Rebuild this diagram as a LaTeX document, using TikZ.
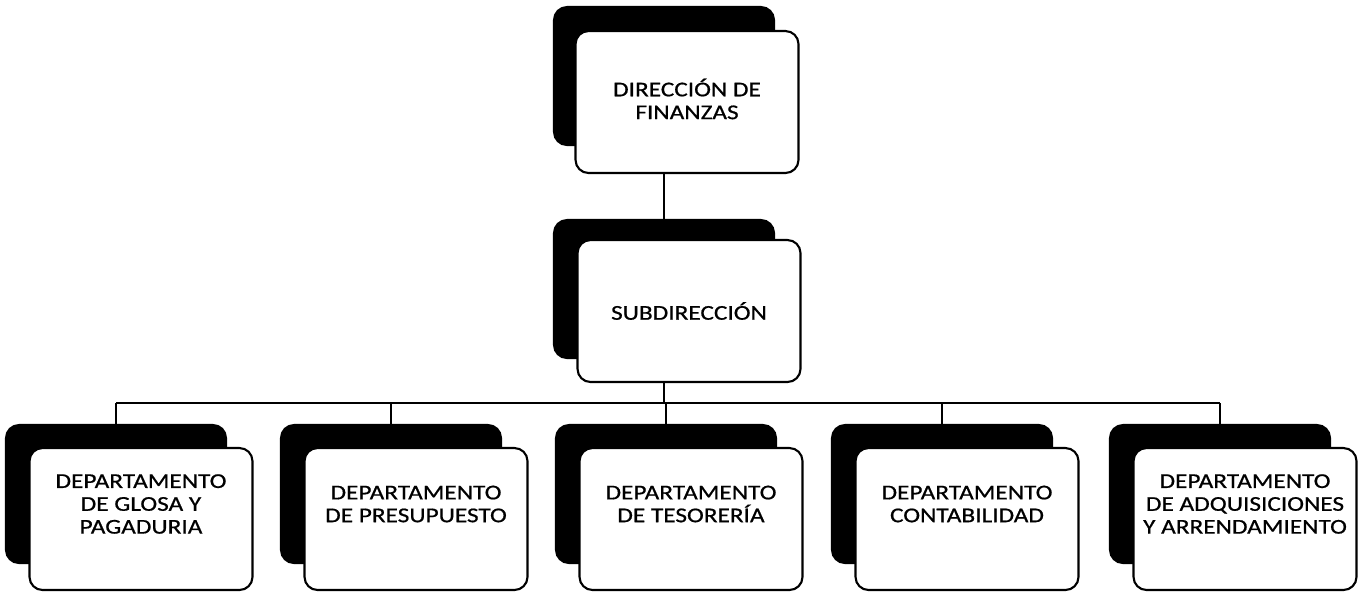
\documentclass[tikz,border=0pt]{standalone}
\usepackage{fontspec}
\setmainfont{Carlito}[FakeStretch=1.2, FakeBold=0.7]
\usetikzlibrary{backgrounds}

\tikzset{
  backbox/.style={draw, fill=black, line width=1.2pt, rounded corners=0.26cm,
    minimum width=4.4cm, minimum height=2.76cm, inner sep=0pt},
  frontbox/.style={draw, fill=white, line width=1.2pt, rounded corners=0.26cm,
    minimum width=4.46cm, minimum height=2.84cm, inner sep=0pt},
  boxtext/.style={align=center, font=\fontsize{12}{13}\selectfont},
  link/.style={line width=1.2pt}
}

\begin{document}
\begin{tikzpicture}[x=0.02cm, y=-0.02cm]
\useasboundingbox (0,0) rectangle (1367,593);

% direccion
\node[backbox] (dir) at (664,76) {};
\node[frontbox] (dirf) at (687,102) {};
\node[boxtext] (dirt) at ([yshift=0.06cm]dirf.center) {DIRECCIÓN DE\\FINANZAS};

% subdireccion
\node[backbox] (sub) at (664,289) {};
\node[frontbox] (subf) at (689,311) {};
\node[boxtext] (subt) at (subf.center) {SUBDIRECCIÓN};

% departamentos
\foreach \x/\txt [count=\i] in {116/{DEPARTAMENTO\\DE GLOSA Y\\PAGADURIA},
    391/{DEPARTAMENTO\\DE PRESUPUESTO},
    666/{DEPARTAMENTO\\DE TESORERÍA},
    942/{DEPARTAMENTO\\CONTABILIDAD},
    1220/{DEPARTAMENTO\\DE ADQUISICIONES\\Y ARRENDAMIENTO}} {
  \node[backbox] (d\i) at (\x,494) {};
  \node[frontbox] (f\i) at (\x+25,519) {};
  \node[boxtext] (t\i) at ([yshift=0.3cm]f\i.center) {\txt};
}

% lineas
\coordinate (bus) at (664,403);
\begin{scope}[on background layer]
\draw[link] (dir) -- (sub);
\draw[link] (sub) -- (bus);
\draw[link] (d1 |- bus) -- (d5 |- bus);
\foreach \i in {1,...,5} {
  \draw[link] (d\i |- bus) -- (d\i);
}
\end{scope}

\end{tikzpicture}
\end{document}
